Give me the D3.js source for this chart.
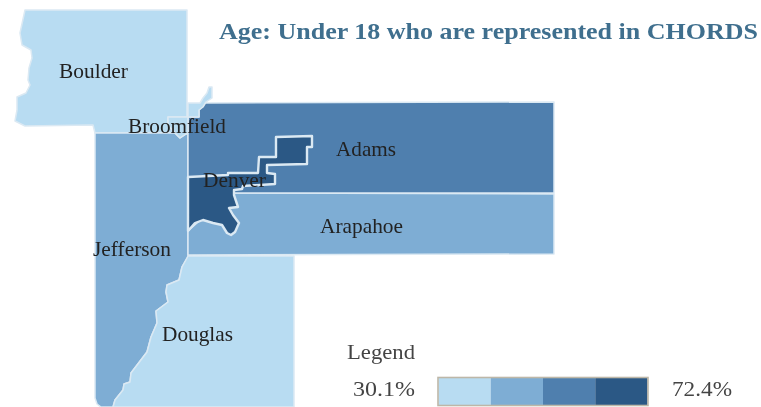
<!DOCTYPE html>
<html><head><meta charset="utf-8">
<script src="https://cdn.jsdelivr.net/npm/d3@7"></script>
<style>html,body{margin:0;padding:0;background:#fff}svg{display:block;font-family:"Liberation Serif",serif;filter:blur(0.5px)}</style>
</head><body><svg id="c" width="761" height="407"></svg>
<script>
const titleText = "Age: Under 18 who are represented in CHORDS";
const legendTitle = "Legend";
const legendMin = 30.1, legendMax = 72.4;
const palette = ["#b8dcf2","#7eadd4","#4f7fae","#2b5885"];
const counties = ["Boulder","Jefferson","Douglas","Arapahoe","Adams","Broomfield","Denver"];
const values = [34, 44, 33, 46, 57, 35, 68]; // estimated from the colour class
const boulder = [[25,10],[187,10],[187,117],[168,117],[168,125],[175,133],[95,133],[93,125],[25,126],[15,121],[17,110],[17,97],[26,93],[30,85],[28,80],[29,68],[32,58],[31,50],[22,45],[20,33]];
const jefferson = [[95,133],[175,133],[180,138],[186,134],[188,133],[188,257],[182,267],[179,280],[167,285],[166,292],[168,302],[156,311],[157,323],[151,337],[147,352],[131,373],[130,382],[124,384],[123,390],[115,400],[113,407],[101,407],[97,404],[95,398]];
const douglas = [[188,256],[294,256],[294,407],[113,407],[115,400],[123,390],[124,384],[130,382],[131,373],[147,352],[151,337],[157,323],[156,311],[168,302],[166,292],[167,285],[179,280],[182,267]];
const arapahoe = [[234,193],[554,194],[554,254],[188,255],[188,231],[234,190]];
const adams = [[188,117],[199,117],[199,110],[205,103],[554,102],[554,193],[234,193],[188,177]];
const broomfield = [[168,117],[188,117],[188,103],[200,103],[203,98],[207,93],[209,87],[212,87],[212,98],[206,102],[203,107],[199,110],[199,117],[188,117],[188,133],[186,134],[180,138],[175,133],[168,125]];
const denver = [[188,177],[228,175],[228,173],[258,173],[259,157],[276,157],[276,137],[312,136],[312,147],[307,147],[307,164],[267,165],[267,173],[275,174],[275,184],[243,186],[242,189],[234,190],[234,195],[238,207],[229,208],[233,215],[239,223],[235,232],[231,235],[227,233],[222,225],[213,223],[203,220],[195,223],[188,231]];
const shapes = [boulder,jefferson,douglas,arapahoe,adams,broomfield,denver];
const labels = [["Boulder",59,78,69],["Broomfield",128,133,98],["Adams",336,156,60],["Denver",203,187,63],["Arapahoe",320,233,83],["Jefferson",93,256,78],["Douglas",162,341,71]];

const svg = d3.select("#c");
const color = d3.scaleQuantize().domain([legendMin,legendMax]).range(palette);
const features = counties.map((n,i)=>({type:"Feature",properties:{name:n,value:values[i]},
  geometry:{type:"Polygon",coordinates:[[...shapes[i],shapes[i][0]].reverse()]}}));
const path = d3.geoPath(d3.geoIdentity());
svg.append("g").selectAll("path").data(features).join("path")
  .attr("d",path).attr("fill",d=>color(d.properties.value))
  .attr("stroke","#dbe9f3").attr("stroke-width",d=>d.properties.name==="Denver"?2.4:1.5).attr("stroke-linejoin","round");

svg.append("g").selectAll("text").data(labels).join("text")
  .attr("x",d=>d[1]).attr("y",d=>d[2]).text(d=>d[0])
  .attr("font-size",21).attr("fill","#222")
  .attr("textLength",d=>d[3]).attr("lengthAdjust","spacingAndGlyphs");

svg.append("text").attr("x",219).attr("y",39).text(titleText)
  .attr("font-size",24).attr("font-weight","bold").attr("fill","#3f6f8e")
  .attr("textLength",539).attr("lengthAdjust","spacingAndGlyphs");

svg.append("text").attr("x",347).attr("y",359).text(legendTitle).attr("font-size",21).attr("fill","#444")
  .attr("textLength",68).attr("lengthAdjust","spacingAndGlyphs");
svg.append("text").attr("x",353).attr("y",396).text(legendMin.toFixed(1)+"%").attr("font-size",21).attr("fill","#444")
  .attr("textLength",62).attr("lengthAdjust","spacingAndGlyphs");
svg.append("text").attr("x",672).attr("y",396).text(legendMax.toFixed(1)+"%").attr("font-size",21).attr("fill","#444")
  .attr("textLength",60).attr("lengthAdjust","spacingAndGlyphs");
const lx = d3.scaleBand().domain(d3.range(palette.length)).range([438.5,647.5]);
svg.append("g").selectAll("rect").data(palette).join("rect")
  .attr("x",(d,i)=>lx(i)).attr("y",378).attr("width",lx.bandwidth()).attr("height",27).attr("fill",d=>d);
svg.append("rect").attr("x",438).attr("y",377.5).attr("width",210).attr("height",28).attr("fill","none").attr("stroke","#bdb7a8").attr("stroke-width",1.6);
</script></body></html>
